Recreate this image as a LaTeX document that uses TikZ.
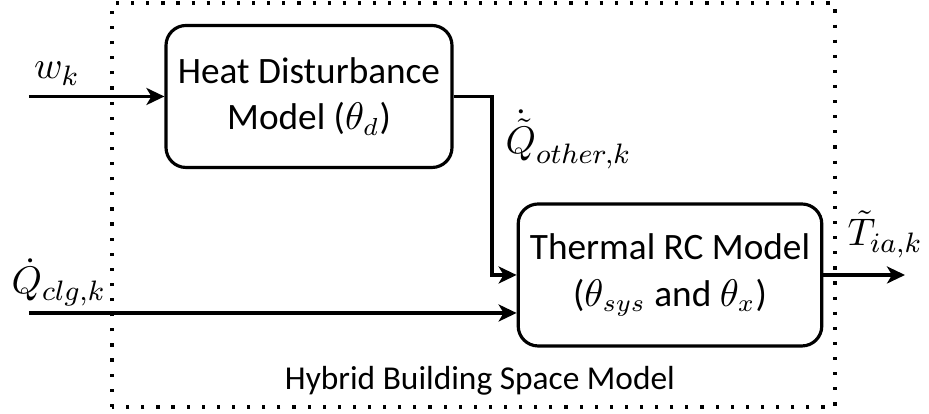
\documentclass[tikz,border=0pt]{standalone}
\usepackage{fontspec}
\setmainfont{Carlito}
\usetikzlibrary{arrows.meta}

\begin{document}
\begin{tikzpicture}
    % Define styles
    \tikzset{
        block/.style={draw, line width=0.9pt, rounded corners=0.2cm, minimum width=2.86cm, minimum height=1.42cm, align=center, font=\fontsize{10.6}{13.3}\selectfont},
        signal/.style={-{Stealth[length=0.18cm, width=0.17cm, inset=0.05cm]}, line width=0.9pt},
        sysbox/.style={line width=0.9pt, dash pattern=on 0.9pt off 3.4pt},
        siglabel/.style={inner sep=0pt, font=\fontsize{11}{13}\selectfont},
        caption/.style={inner sep=0pt, font=\fontsize{9.5}{12}\selectfont}
    }
    \useasboundingbox (0,0) rectangle (9.29,4.14);

    % Hybrid model boundary
    \draw[sysbox] (1.12,0.07) rectangle (8.35,4.11);
    \node[caption] (hybrid) at (4.80,0.33) {Hybrid Building Space Model};

    % Blocks
    \node[block] (heat) at (3.09,3.175) {Heat Disturbance\\Model ($\theta_d$)};
    \node[block] (thermal) at (6.70,1.39) {Thermal RC Model\\($\theta_{sys}$ and $\theta_x$)};

    % Free ends
    \coordinate (win) at (0.29,3.175);
    \coordinate (qin) at (0.29,1.01);
    \coordinate (tout) at (9.05,1.39);
    \coordinate (bend) at (4.92,3.175);

    % Arrows
    \draw[signal] (win) -- (heat.west);
    \draw[signal] (heat.east) -- (bend) |- (thermal.west);
    \draw[signal] (qin) -- (qin -| thermal.west);
    \draw[signal] (thermal.east) -- (tout);

    % Signal labels
    \node[siglabel, anchor=base] (wk) at (0.57,3.35) {$w_k$};
    \node[siglabel, anchor=base west] (qother) at (5.05,2.60) {$\dot{\tilde{Q}}_{other,k}$};
    \node[siglabel, anchor=base west] (qclg) at (0.11,1.20) {$\dot{Q}_{clg,k}$};
    \node[siglabel, anchor=base west] (tia) at (8.47,1.68) {$\tilde{T}_{ia,k}$};
\end{tikzpicture}
\end{document}
